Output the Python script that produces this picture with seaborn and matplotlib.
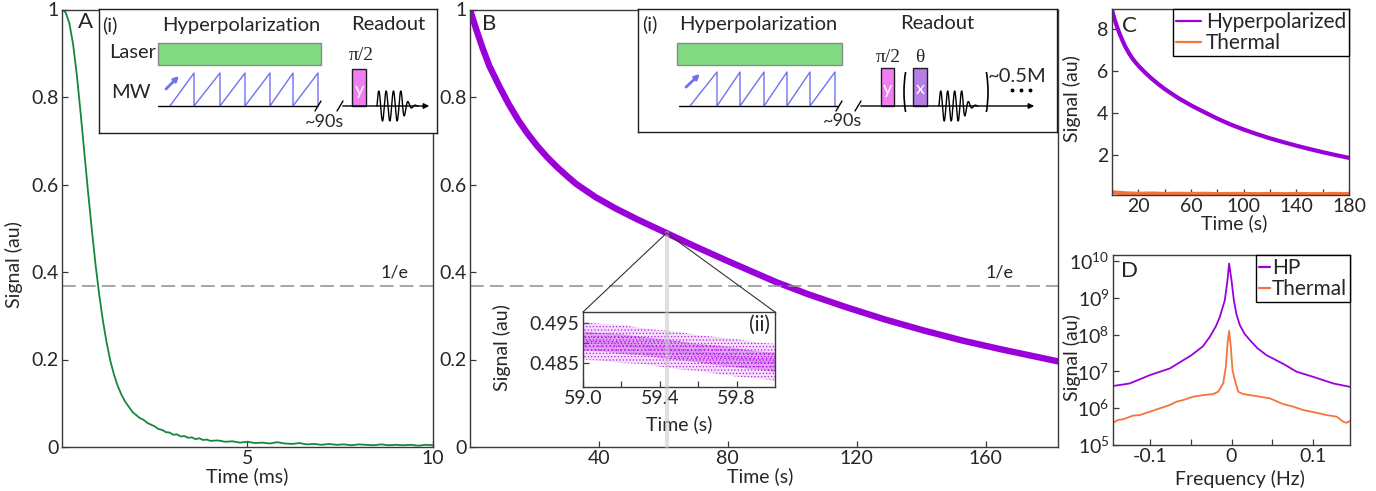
import numpy as np
import pandas as pd
import matplotlib
matplotlib.use("Agg")
import matplotlib.pyplot as plt
import seaborn as sns
from matplotlib.patches import Rectangle, Arc
from matplotlib.lines import Line2D
from matplotlib.ticker import FixedLocator, NullLocator

# ------------------------------------------------------------------ data
# Panel A: decay in ms
decay_ms_time = [0.0, 0.1, 0.2, 0.3, 0.4, 0.5, 0.6, 0.7, 0.8, 0.9, 1.0, 1.1, 1.2, 1.3,
                 1.4, 1.5, 1.6, 1.7, 1.8, 1.9, 2.0, 2.1, 2.2, 2.3, 2.4, 2.5, 2.6, 2.7,
                 2.8, 2.9, 3.0, 3.1, 3.2, 3.3, 3.4, 3.5, 3.6, 3.7, 3.8, 3.9, 4.0, 4.2,
                 4.4, 4.6, 4.8, 5.0, 5.2, 5.4, 5.6, 5.8, 6.0, 6.2, 6.4, 6.6, 6.8, 7.0,
                 7.2, 7.4, 7.6, 7.8, 8.0, 8.2, 8.4, 8.6, 8.8, 9.0, 9.2, 9.4, 9.6, 9.8, 10.0]
decay_ms_signal = [1.000, 0.993, 0.968, 0.920, 0.850, 0.765, 0.675, 0.585, 0.500, 0.420,
                   0.350, 0.290, 0.240, 0.198, 0.166, 0.140, 0.120, 0.104, 0.092, 0.080,
                   0.073, 0.066, 0.062, 0.055, 0.051, 0.047, 0.041, 0.039, 0.034, 0.033,
                   0.028, 0.029, 0.024, 0.025, 0.021, 0.022, 0.018, 0.020, 0.016, 0.017,
                   0.014, 0.015, 0.012, 0.013, 0.010, 0.012, 0.009, 0.010, 0.008, 0.011,
                   0.008, 0.007, 0.009, 0.006, 0.007, 0.005, 0.007, 0.005, 0.006, 0.004,
                   0.006, 0.005, 0.004, 0.006, 0.004, 0.005, 0.004, 0.005, 0.003, 0.005, 0.004]

# Panel B: hyperpolarized decay in s
hp_time_s = [0, 2, 4, 6, 9, 12, 15, 18, 21, 24, 27, 30, 33, 39, 45, 52, 61, 70, 80, 95,
             105, 117, 129, 141, 153, 165, 174, 183]
hp_signal = [1.0, 0.953, 0.910, 0.871, 0.826, 0.784, 0.747, 0.715, 0.687, 0.662, 0.640,
             0.620, 0.601, 0.571, 0.546, 0.520, 0.489, 0.458, 0.425, 0.377, 0.349, 0.319,
             0.291, 0.266, 0.243, 0.223, 0.209, 0.195]
one_over_e = 0.368
zoom_marker_time = 61
zoom_marker_signal = 0.489

# Panel B inset (ii): zoomed noisy data band
zoom_time_s = [59.0, 59.1, 59.2, 59.3, 59.4, 59.5, 59.6, 59.7, 59.8, 59.9, 60.0]
zoom_center = [0.4905, 0.4902, 0.4898, 0.4893, 0.4887, 0.4881, 0.4875, 0.4869, 0.4863,
               0.4857, 0.4852]
zoom_core_half = [0.0024, 0.0023, 0.0025, 0.0023, 0.0024, 0.0024, 0.0023, 0.0025, 0.0024,
                  0.0023, 0.0024]
zoom_spread_half = [0.0047, 0.0046, 0.0048, 0.0045, 0.0046, 0.0047, 0.0045, 0.0046,
                    0.0047, 0.0045, 0.0046]

# Panel C
c_time_s = [0, 2, 4, 6, 8, 10, 13, 16, 20, 25, 30, 35, 40, 50, 60, 70, 80, 90, 100, 110,
            120, 130, 140, 150, 160, 170, 180]
c_hp_signal = [8.9, 8.45, 8.07, 7.74, 7.44, 7.17, 6.83, 6.55, 6.25, 5.93, 5.64, 5.38, 5.14,
               4.72, 4.36, 4.04, 3.73, 3.45, 3.21, 2.99, 2.79, 2.61, 2.44, 2.28, 2.13, 1.99,
               1.86]
c_thermal_time_s = [0, 10, 20, 30, 40, 50, 60, 70, 80, 90, 100, 110, 120, 130, 140, 150,
                    160, 170, 180]
c_thermal_signal = [0.22, 0.17, 0.15, 0.16, 0.14, 0.15, 0.14, 0.15, 0.13, 0.14, 0.14,
                    0.13, 0.14, 0.13, 0.14, 0.13, 0.13, 0.14, 0.13]

# Panel D: spectra
d_hp_freq = [-0.1449, -0.1245, -0.1, -0.0755, -0.049, -0.035, -0.0265, -0.019, -0.0143,
             -0.0082, -0.0049, -0.0029, 0.0, 0.0029, 0.006, 0.0102, 0.016, 0.0224, 0.032,
             0.0429, 0.0633, 0.0796, 0.1, 0.1245, 0.1449]
d_hp_signal = [4.0e6, 4.7e6, 7.9e6, 1.2e7, 2.75e7, 4.8e7, 8.7e7, 1.7e8, 3.0e8, 8.5e8, 3.0e9,
               8.5e9, 3.0e9, 8.5e8, 3.6e8, 1.8e8, 1.05e8, 7.1e7, 4.2e7, 2.75e7, 1.6e7,
               9.8e6, 7.1e6, 4.7e6, 3.8e6]
d_th_freq = [-0.1449, -0.1388, -0.1327, -0.1204, -0.1122, -0.1, -0.0878, -0.0755, -0.0673,
             -0.0592, -0.0469, -0.0347, -0.0224, -0.0163, -0.0102, -0.0069, -0.0049, -0.0029,
             -0.0008, 0.0012, 0.0041, 0.0082, 0.0143, 0.0224, 0.0347, 0.0469, 0.0633, 0.0755,
             0.0878, 0.1041, 0.1163, 0.1286, 0.1367, 0.1408, 0.1449]
d_th_signal = [4.0e5, 4.8e5, 5.0e5, 6.3e5, 6.5e5, 8.0e5, 9.9e5, 1.22e6, 1.5e6, 1.66e6, 2.05e6,
               2.27e6, 2.42e6, 2.8e6, 4.7e6, 1.33e7, 5.7e7, 1.26e8, 4.6e7, 1.08e7, 5.8e6,
               2.8e6, 2.42e6, 2.27e6, 2.05e6, 1.85e6, 1.29e6, 1.1e6, 8.9e5, 7.5e5, 6.5e5,
               5.9e5, 4.3e5, 4.0e5, 4.5e5]

# ------------------------------------------------------------------ style
sns.set_theme(style="ticks")
plt.rcParams['font.family'] = ['Lato', 'DejaVu Sans']
plt.rcParams['mathtext.fontset'] = 'custom'
plt.rcParams['mathtext.rm'] = 'Lato'
plt.rcParams['mathtext.it'] = 'Lato:italic'
plt.rcParams['mathtext.bf'] = 'Lato:bold'
plt.rcParams['hatch.linewidth'] = 0.5

GREEN = '#15883c'
PURPLE = '#9a00d8'
ORANGE = '#f5743a'
SCAT = '#b418e6'
SPINE = '#3a3a3a'
TEXT = '#262626'
DASH = '#8e8e8e'
BLUE = '#6f73f0'
PINK = '#f07ef0'
VIOLET = '#b47ee5'
LGREEN = '#82db82'
FS = 14
LFS = 15

W, H = 1376, 491
fig = plt.figure(figsize=(W / 100, H / 100), dpi=100)


def rect(l, t, r, b):
    return [l / W, 1 - b / H, (r - l) / W, (b - t) / H]


def style(ax):
    for s in ax.spines.values():
        s.set_visible(True)
        s.set_color(SPINE)
        s.set_linewidth(1.0)
    ax.tick_params(which='both', direction='in', length=4, width=0.9, color=SPINE,
                   labelcolor=TEXT, labelsize=FS, top=False, right=False, pad=2.5)
    ax.set_facecolor('white')


def place_labels(ax, xl, xpos, yl=None, ypos=None, fs=FS):
    ax.set_xlabel(xl, fontsize=fs, color=TEXT, va='center', ha='center')
    ax.xaxis.set_label_coords(*xpos)
    if yl is not None:
        ax.set_ylabel(yl, fontsize=fs, color=TEXT, va='center', ha='center')
        ax.yaxis.set_label_coords(*ypos)


# ------------------------------------------------------------------ panel A
axA = fig.add_axes(rect(62, 9.5, 433, 447))
style(axA)
sns.lineplot(x=decay_ms_time, y=decay_ms_signal, ax=axA, color=GREEN, lw=1.3)
axA.set_xlim(0, 10)
axA.set_ylim(0, 1)
axA.set_xticks([5, 10])
axA.set_xticklabels(['5', '10'])
axA.set_yticks([0, 0.2, 0.4, 0.6, 0.8, 1.0])
axA.set_yticklabels(['0', '0.2', '0.4', '0.6', '0.8', '1'])
lA = axA.axhline(one_over_e, color=DASH, lw=1.1)
lA.set_dashes((9, 4))
axA.text(8.95, 0.40, '1/e', fontsize=13, color=TEXT, ha='center', va='center')
place_labels(axA, 'Time (ms)', (0.499, -0.066), 'Signal (au)', (-0.13, 0.416))
fig.text(85 / W, 1 - 22 / H, 'A', fontsize=16, ha='center', va='center')

# ------------------------------------------------------------------ panel B
axB = fig.add_axes(rect(470, 9.5, 1058, 447))
style(axB)
sns.lineplot(x=hp_time_s, y=hp_signal, ax=axB, color=PURPLE, lw=4.6)
axB.set_xlim(0, 182.5)
axB.set_ylim(0, 1)
axB.set_xticks([40, 80, 120, 160])
axB.set_xticklabels(['40', '80', '120', '160'])
axB.set_yticks([0, 0.2, 0.4, 0.6, 0.8, 1.0])
axB.set_yticklabels(['0', '0.2', '0.4', '0.6', '0.8', '1'])
lB = axB.axhline(one_over_e, color=DASH, lw=1.1)
lB.set_dashes((9, 4))
axB.text(164.5, 0.40, '1/e', fontsize=13, color=TEXT, ha='center', va='center')
place_labels(axB, 'Time (s)', (0.493, -0.066))
axB.set_ylabel('')
fig.text(489 / W, 1 - 24 / H, 'B', fontsize=16, ha='center', va='center')

# inset (ii)
axI = fig.add_axes(rect(583, 312, 775, 387))
style(axI)
lo_s = [c - s for c, s in zip(zoom_center, zoom_spread_half)]
hi_s = [c + s for c, s in zip(zoom_center, zoom_spread_half)]
lo_c = [c - s for c, s in zip(zoom_center, zoom_core_half)]
hi_c = [c + s for c, s in zip(zoom_center, zoom_core_half)]
axI.fill_between(zoom_time_s, lo_s, hi_s, facecolor=(0.71, 0.09, 0.90, 0.14),
                 edgecolor=SCAT, hatch='.....', lw=0)
axI.fill_between(zoom_time_s, lo_c, hi_c, facecolor=(0.71, 0.09, 0.90, 0.30),
                 edgecolor=SCAT, hatch='....', lw=0)
sns.lineplot(x=zoom_time_s, y=zoom_center, ax=axI, color=SCAT, lw=3, alpha=0.15)
axI.set_xlim(59.0, 60.0)
axI.set_ylim(0.479, 0.4978)
axI.xaxis.set_major_locator(FixedLocator([59.0, 59.4, 59.8]))
axI.set_xticklabels(['59.0', '59.4', '59.8'])
axI.xaxis.set_minor_locator(FixedLocator([59.2, 59.6]))
axI.yaxis.set_major_locator(FixedLocator([0.485, 0.495]))
axI.set_yticklabels(['0.485', '0.495'])
axI.yaxis.set_minor_locator(FixedLocator([0.490]))
place_labels(axI, 'Time (s)', (0.5, -0.49), 'Signal (au)', (-0.42, 0.52))
axI.text(0.975, 0.83, '(ii)', transform=axI.transAxes, fontsize=15, color=TEXT,
         ha='right', va='center')

# ------------------------------------------------------------------ panel C
axC = fig.add_axes(rect(1112, 9, 1349, 195))
style(axC)
sns.lineplot(x=c_time_s, y=c_hp_signal, ax=axC, color=PURPLE, lw=3.0)
sns.lineplot(x=c_thermal_time_s, y=c_thermal_signal, ax=axC, color=ORANGE, lw=3.0)
axC.set_xlim(0, 180)
axC.set_ylim(0.09, 8.95)
axC.xaxis.set_major_locator(FixedLocator([20, 60, 100, 140, 180]))
axC.set_xticklabels(['20', '60', '100', '140', '180'])
axC.xaxis.set_minor_locator(FixedLocator([40, 80, 120, 160]))
axC.set_yticks([2, 4, 6, 8])
axC.set_yticklabels(['2', '4', '6', '8'])
place_labels(axC, 'Time (s)', (0.515, -0.15), 'Signal (au)', (-0.17, 0.516))
legC = axC.legend(handles=[Line2D([], [], color=PURPLE, lw=1.6),
                           Line2D([], [], color=ORANGE, lw=1.6)],
                  labels=['Hyperpolarized', 'Thermal'], loc='upper right',
                  bbox_to_anchor=(1.0, 1.0), borderaxespad=0, fontsize=LFS,
                  frameon=True, fancybox=False, edgecolor='black', framealpha=1,
                  handlelength=1.2, handletextpad=0.2, labelspacing=0.05, borderpad=0.15)
legC.get_frame().set_linewidth(1.0)
axC.text(0.072, 0.91, 'C', transform=axC.transAxes, fontsize=16, ha='center', va='center')

# ------------------------------------------------------------------ panel D
axD = fig.add_axes(rect(1113, 255, 1350, 445))
style(axD)
axD.set_yscale('log')
sns.lineplot(x=d_hp_freq, y=d_hp_signal, ax=axD, color=PURPLE, lw=1.3)
sns.lineplot(x=d_th_freq, y=d_th_signal, ax=axD, color=ORANGE, lw=1.3)
axD.set_xlim(-0.145, 0.145)
axD.set_ylim(1e5, 1.45e10)
axD.xaxis.set_major_locator(FixedLocator([-0.1, 0.0, 0.1]))
axD.set_xticklabels(['-0.1', '0', '0.1'])
axD.xaxis.set_minor_locator(FixedLocator([-0.05, 0.05]))
axD.yaxis.set_major_locator(FixedLocator([1e5, 1e6, 1e7, 1e8, 1e9, 1e10]))
axD.set_yticklabels([r'$\mathregular{10^{%d}}$' % k for k in range(5, 11)])
axD.yaxis.set_minor_locator(NullLocator())
place_labels(axD, 'Frequency (Hz)', (0.536, -0.18), 'Signal (au)', (-0.175, 0.46))
legD = axD.legend(handles=[Line2D([], [], color=PURPLE, lw=1.6),
                           Line2D([], [], color=ORANGE, lw=1.6)],
                  labels=['HP', 'Thermal'], loc='upper right', bbox_to_anchor=(1.0, 1.0),
                  borderaxespad=0, fontsize=LFS, frameon=True, fancybox=False,
                  edgecolor='black', framealpha=1, handlelength=0.5, handletextpad=0.1,
                  labelspacing=0.05, borderpad=0.15)
legD.get_frame().set_linewidth(1.0)
axD.text(0.07, 0.915, 'D', transform=axD.transAxes, fontsize=16, ha='center', va='center')

# ------------------------------------------------------------------ zoom connectors (B)
toFig = fig.transFigure.inverted()
apex = toFig.transform(axB.transData.transform((zoom_marker_time, zoom_marker_signal)))
base = toFig.transform(axB.transData.transform((zoom_marker_time, 0)))
pI = axI.get_position()
fig.add_artist(Line2D([apex[0], apex[0]], [apex[1], base[1]], color='#c8c8c8', lw=3.0,
                      alpha=0.55, zorder=20))
fig.add_artist(Line2D([apex[0], pI.x0], [apex[1], pI.y1], color='#333333', lw=0.8, zorder=21))
fig.add_artist(Line2D([apex[0], pI.x1], [apex[1], pI.y1], color='#333333', lw=0.8, zorder=21))


# ------------------------------------------------------------------ schematics
def seq_axes(l, t, r, b):
    ax = fig.add_axes(rect(l, t, r, b))
    ax.set_xlim(l, r)
    ax.set_ylim(b, t)
    ax.set_xticks([])
    ax.set_yticks([])
    ax.set_facecolor('white')
    for s in ax.spines.values():
        s.set_visible(True)
        s.set_color('#1e1e1e')
        s.set_linewidth(1.0)
    ax.set_zorder(5)
    return ax


def sawtooth(ax, x0, drops, top, base):
    xs, ys = [x0], [base]
    for d in drops:
        xs += [d, d]
        ys += [top, base]
    ax.plot(xs, ys, color=BLUE, lw=1.0)


def fid(ax, x0, x1, yb, amp):
    u = np.linspace(0, 1, 300)
    env = np.where(u < 0.62, 1.0, np.exp(-(u - 0.62) * 9))
    y = yb - amp * np.sin(2 * np.pi * 5.6 * u) * env
    ax.plot(x0 + (x1 - x0) * u, y, color='black', lw=1.0)


def breaks(ax, xa, xb, yb):
    for xx in (xa, xb):
        ax.plot([xx - 3, xx + 3], [yb + 5, yb - 5], color='black', lw=1.0)


def pulse(ax, x0, x1, y0, y1, fc, letter):
    ax.add_patch(Rectangle((x0, y0), x1 - x0, y1 - y0, fc=fc, ec='#1e1e1e', lw=1.0))
    ax.text((x0 + x1) / 2, (y0 + y1) / 2 + 2, letter, color='white', fontsize=13,
            ha='center', va='center')


SERIF = ['Liberation Serif', 'DejaVu Serif']
SFS = 14.5

# A schematic
sA = seq_axes(99, 9, 437, 133)
sA.text(102, 25, '(i)', fontsize=SFS, ha='left', va='center', color=TEXT)
sA.text(241, 25, 'Hyperpolarization', fontsize=SFS, ha='center', va='center', color=TEXT)
sA.text(388, 25, 'Readout', fontsize=SFS, ha='center', va='center', color=TEXT)
sA.text(109, 53, 'Laser', fontsize=SFS, ha='left', va='center', color=TEXT)
sA.text(111, 93, 'MW', fontsize=SFS, ha='left', va='center', color=TEXT)
sA.add_patch(Rectangle((158, 43), 163, 22, fc=LGREEN, ec='#8a8a8a', lw=1.0))
sawtooth(sA, 170, [194, 220, 245, 270, 293, 318], 73, 106)
sA.annotate('', xy=(181, 74), xytext=(164, 91),
            arrowprops=dict(arrowstyle='-|>', color=BLUE, lw=2.0, mutation_scale=7))
sA.plot([158, 317], [106, 106], color='black', lw=1.0)
breaks(sA, 318, 340, 106)
sA.annotate('', xy=(432, 106), xytext=(340, 106),
            arrowprops=dict(arrowstyle='-|>', color='black', lw=1.0, mutation_scale=8))
sA.text(325, 122, '~90s', fontsize=13, ha='center', va='center', color=TEXT)
pulse(sA, 352, 366, 69, 106, PINK, 'y')
sA.text(361, 55, 'π/2', fontsize=14, ha='center', va='center', color=TEXT, family=SERIF)
fid(sA, 377, 418, 106, 15)

# B schematic
sB = seq_axes(638, 9, 1057, 132)
sB.text(642, 24, '(i)', fontsize=SFS, ha='left', va='center', color=TEXT)
sB.text(758, 24, 'Hyperpolarization', fontsize=SFS, ha='center', va='center', color=TEXT)
sB.text(937, 23, 'Readout', fontsize=SFS, ha='center', va='center', color=TEXT)
sB.add_patch(Rectangle((677, 43), 165, 22, fc=LGREEN, ec='#8a8a8a', lw=1.0))
sawtooth(sB, 690, [717, 740, 764, 787, 810, 835], 72, 106)
sB.annotate('', xy=(702, 72), xytext=(684, 89),
            arrowprops=dict(arrowstyle='-|>', color=BLUE, lw=2.0, mutation_scale=7))
sB.plot([679, 838], [106, 106], color='black', lw=1.0)
breaks(sB, 839, 858, 106)
sB.annotate('', xy=(1037, 106), xytext=(858, 106),
            arrowprops=dict(arrowstyle='-|>', color='black', lw=1.0, mutation_scale=8))
sB.text(843, 121, '~90s', fontsize=13, ha='center', va='center', color=TEXT)
pulse(sB, 881, 894, 68, 106, PINK, 'y')
pulse(sB, 913, 927, 68, 106, VIOLET, 'x')
sB.text(888, 57, 'π/2', fontsize=14, ha='center', va='center', color=TEXT, family=SERIF)
sB.text(920, 57, 'θ', fontsize=14, ha='center', va='center', color=TEXT, family=SERIF)
sB.add_patch(Arc((911, 92), 14, 62, theta1=105, theta2=255, color='black', lw=1.2))
sB.add_patch(Arc((981, 92), 14, 62, theta1=-75, theta2=75, color='black', lw=1.2))
fid(sB, 939, 978, 106, 15)
sB.text(988, 77, '~0.5M', fontsize=SFS, ha='left', va='center', color=TEXT)
sB.plot([1012, 1021, 1030], [90, 90, 90], ls='none', marker='o', ms=1.8, color='black')

fig.savefig('out.png', dpi=100, facecolor='white')
